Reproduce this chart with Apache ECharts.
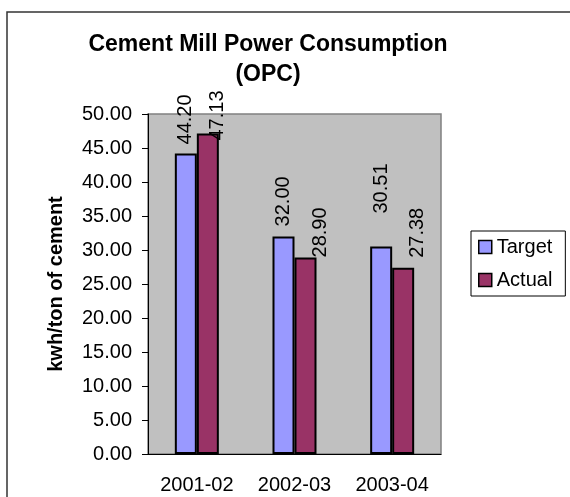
<!DOCTYPE html>
<html>
<head>
<meta charset="utf-8">
<script src="https://cdn.jsdelivr.net/npm/echarts@6/dist/echarts.min.js"></script>
<style>
  html, body { margin: 0; padding: 0; background: #fff; }
  #chart { width: 570px; height: 497px; }
</style>
</head>
<body>
<div id="chart"></div>
<script>
// data
var years = ['2001-02', '2002-03', '2003-04'];
var target = [44.20, 32.00, 30.51];
var actual = [47.13, 28.90, 27.38];

// label nudges (up, right) so they sit like the excel ones
var targetLabelPos = [[9, 0], [10, 0], [33, 0]];
var actualLabelPos = [[-7, 10], [0, 15], [10, 14]];

var font = 'Arial, "Liberation Sans", sans-serif';

function withLabels(values, nudges) {
    return values.map(function (v, i) {
        return { value: v, label: { offset: nudges[i] } };
    });
}

var myChart = echarts.init(document.getElementById('chart'));

var option = {
    backgroundColor: '#fff',
    animation: false,
    title: {
        text: 'Cement Mill Power Consumption\n(OPC)',
        left: 263,
        top: 25,
        textAlign: 'center',
        textStyle: {
            fontFamily: font,
            fontSize: 23,
            fontWeight: 'bold',
            color: '#000',
            lineHeight: 30
        }
    },
    graphic: [{
        type: 'rect',
        shape: { x: 7, y: 12, width: 700, height: 700 },
        style: { fill: 'none', stroke: '#333', lineWidth: 1.5 },
        z: -1
    }],
    legend: {
        orient: 'vertical',
        left: 471,
        top: 231,
        padding: [6, 13, 6, 7],
        itemGap: 13,
        itemWidth: 13,
        itemHeight: 13,
        icon: 'rect',
        backgroundColor: '#fff',
        borderColor: '#000',
        borderWidth: 1,
        itemStyle: { borderWidth: 1.5, borderColor: '#000' },
        textStyle: { fontFamily: font, fontSize: 20, color: '#000' },
        data: ['Target', 'Actual']
    },
    grid: {
        show: true,
        left: 148,
        right: 129,
        top: 114,
        bottom: 43,
        backgroundColor: '#C0C0C0',
        borderColor: '#808080',
        borderWidth: 1.5
    },
    xAxis: {
        type: 'category',
        data: years,
        axisLine: { lineStyle: { color: '#000', width: 1 } },
        axisTick: { length: 6, lineStyle: { color: '#000' } },
        axisLabel: { fontFamily: font, fontSize: 20, color: '#000', margin: 21 }
    },
    yAxis: {
        type: 'value',
        min: 0,
        max: 50,
        interval: 5,
        name: 'kwh/ton of cement',
        nameLocation: 'middle',
        nameGap: 82,
        nameTextStyle: { fontFamily: font, fontSize: 20, fontWeight: 'bold', color: '#000' },
        axisLine: { show: true, lineStyle: { color: '#000', width: 1 } },
        axisTick: { show: true, length: 6, lineStyle: { color: '#000' } },
        splitLine: { show: false },
        axisLabel: {
            fontFamily: font, fontSize: 20, color: '#000', margin: 16,
            formatter: function (v) { return v.toFixed(2); }
        }
    },
    series: [
        {
            name: 'Target',
            type: 'bar',
            barWidth: 22,
            barGap: '0%',
            itemStyle: { color: '#9999FF', borderColor: '#000', borderWidth: 2 },
            label: {
                show: true, position: 'top', rotate: 90, distance: 0,
                align: 'left', verticalAlign: 'middle',
                fontFamily: font, fontSize: 20, color: '#000',
                formatter: function (p) { return p.value.toFixed(2); }
            },
            data: withLabels(target, targetLabelPos)
        },
        {
            name: 'Actual',
            type: 'bar',
            barWidth: 22,
            barGap: '0%',
            itemStyle: { color: '#993366', borderColor: '#000', borderWidth: 2 },
            label: {
                show: true, position: 'top', rotate: 90, distance: 0,
                align: 'left', verticalAlign: 'middle',
                fontFamily: font, fontSize: 20, color: '#000',
                formatter: function (p) { return p.value.toFixed(2); }
            },
            data: withLabels(actual, actualLabelPos)
        }
    ]
};

myChart.setOption(option);
</script>
</body>
</html>
